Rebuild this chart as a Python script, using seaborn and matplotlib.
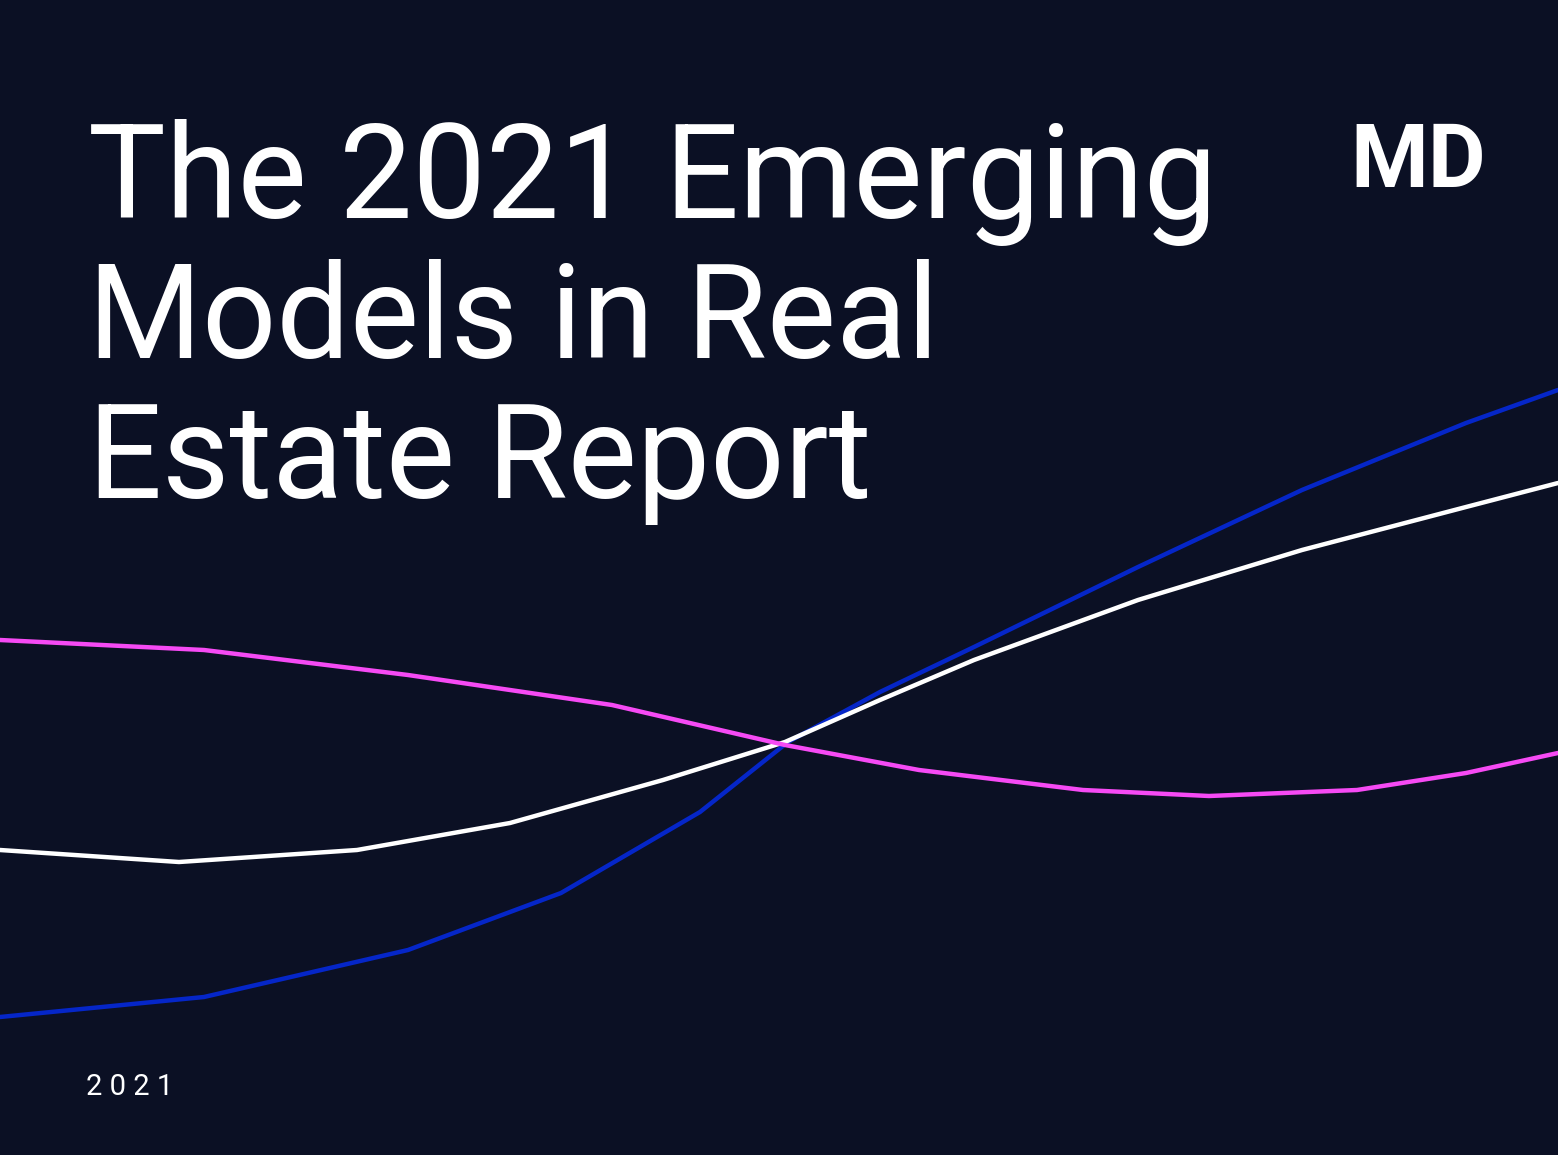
"""Cover of the 2021 Emerging Models in Real Estate Report: three crossing curves."""

import matplotlib

matplotlib.use("Agg")
import matplotlib.pyplot as plt
import pandas as pd
import seaborn as sns

# curve points (pixel coords, y down)
blue_x = [0, 204, 408, 561, 700, 788, 880, 974, 1138, 1302, 1466, 1558]
blue_y = [1017, 997, 950, 893, 812, 742, 692, 647, 567, 490, 423, 390]
white_x = [0, 179, 357, 510, 663, 785, 880, 974, 1138, 1302, 1466, 1558]
white_y = [850, 862, 850, 823, 780, 742, 700, 660, 600, 550, 507, 483]
pink_x = [0, 204, 408, 612, 785, 919, 1083, 1209, 1357, 1466, 1558]
pink_y = [640, 650, 675, 705, 745, 770, 790, 796, 790, 773, 753]

title_lines = ["The 2021 Emerging", "Models in Real", "Estate Report"]
year_label = "2021"

BG = "#0b1024"


def main() -> None:
    sns.set_theme(style="white")
    plt.rcParams["font.family"] = ["Roboto", "DejaVu Sans"]

    df = pd.concat(
        [
            pd.DataFrame({"x": blue_x, "y": blue_y, "curve": "blue"}),
            pd.DataFrame({"x": white_x, "y": white_y, "curve": "white"}),
            pd.DataFrame({"x": pink_x, "y": pink_y, "curve": "pink"}),
        ]
    )

    fig = plt.figure(figsize=(15.58, 11.55), dpi=100, facecolor=BG)
    ax = fig.add_axes([0, 0, 1, 1])
    ax.set_facecolor(BG)
    sns.lineplot(
        data=df, x="x", y="y", hue="curve", ax=ax, linewidth=3.2, legend=False,
        palette={"blue": "#0526c8", "white": "#ffffff", "pink": "#f64af4"},
        sort=False, estimator=None,
    )
    ax.set_xlim(0, 1558)
    ax.set_ylim(1155, 0)
    ax.axis("off")

    for i, line in enumerate(title_lines):
        ax.text(88, 218 + i * 140, line, color="white", fontsize=94,
                fontweight="normal", va="baseline", ha="left")
    ax.text(86, 1095, "2 0 2 1", color="white", fontsize=21, va="baseline",
            ha="left", fontweight="normal")
    ax.text(1350, 187, "MD", color="white", fontsize=64, fontweight="bold",
            va="baseline", ha="left")

    fig.savefig("out.png", dpi=100, facecolor=BG)
    plt.close(fig)


if __name__ == "__main__":
    main()
